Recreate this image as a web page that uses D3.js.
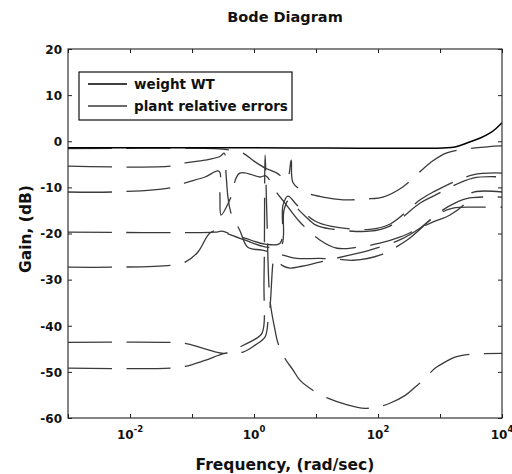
<!DOCTYPE html>
<html>
<head>
<meta charset="utf-8">
<script src="https://cdn.jsdelivr.net/npm/d3@7"></script>
<style>
body { margin: 0; background: #fff; }
svg text { font-family: "DejaVu Sans", sans-serif; font-weight: bold; fill: #111; }
</style>
</head>
<body>
<svg id="bode" width="512" height="474"></svg>
<script>
// axis ticks
var freqTicks = [1e-3, 1e-2, 1e-1, 1e0, 1e1, 1e2, 1e3, 1e4];
var freqLabelExps = [-2, 0, 2, 4];
var gainTicks = [20, 10, 0, -10, -20, -30, -40, -50, -60];

// weight WT  [rad/sec, dB]
var wt = [[1e-3,-1.4],[1.0,-1.4],[1120,-1.45],[1740,-1.25],[3020,-0.15],[4470,0.7],[6460,1.8],[7940,2.7],[10000,4.0]];

// plant relative errors [rad/sec, dB]
var pe1 = [[0.001,-1.6],[0.234,-1.6],[0.407,-1.9],[0.645,-2.5],[1.0,-4.3],[1.51,-5.8],[2.34,-6.9],[3.39,-8.4],[3.98,-4.1],[4.27,-9.0],[6.6,-11.0],[12.9,-12.1],[27.5,-12.7],[66,-12.5],[120,-12.1],[251,-9.9],[692,-4.7],[1290,-2.5],[5750,-1.2],[10000,-1.0]];
var pe2 = [[0.001,-5.4],[0.0447,-5.4],[0.0776,-4.7],[0.162,-4.1],[0.282,-3.3],[0.331,-2.6],[0.355,-7.3],[0.38,-12.1],[0.427,-15.6],[0.589,-19.3],[0.794,-23.0],[1.35,-23.6],[2.63,-24.5],[4.9,-25.4],[11.5,-25.4],[24.5,-25.6],[39.8,-25.8],[107,-24.7],[295,-21.4],[891,-16.0],[1620,-14.5],[4470,-14.3],[10000,-14.3]];
var pe3 = [[0.001,-11.0],[0.00513,-11.0],[0.0447,-10.1],[0.0776,-9.0],[0.162,-7.75],[0.272,-6.5],[0.282,-11.7],[0.295,-16.0],[0.407,-12.7],[0.589,-6.9],[1.26,-7.75],[1.55,-7.5],[2.34,-11.2],[3.16,-13.4],[5.5,-17.5],[11.5,-21.4],[21.9,-23.2],[46,-23.0],[107,-22.1],[224,-20.8],[479,-18.8],[776,-17.5],[1450,-16.0],[2750,-13.0],[3240,-11.2],[10000,-11.0]];
var pe4 = [[0.001,-19.7],[0.234,-19.7],[0.302,-19.5],[0.38,-19.9],[0.708,-21.0],[1.51,-22.3],[2.63,-22.1],[2.94,-13.8],[3.53,-11.9],[4.75,-13.6],[6.6,-15.6],[9.6,-17.3],[17,-18.4],[74,-19.1],[155,-18.0],[479,-12.7],[776,-11.0],[3390,-7.3],[10000,-6.9]];
var pe5 = [[0.001,-27.3],[0.00513,-27.3],[0.0447,-26.9],[0.0776,-26.2],[0.125,-24.0],[0.195,-19.9],[0.282,-19.3],[0.38,-20.1],[0.708,-21.4],[1.51,-22.9],[2.72,-22.7],[3.05,-14.9],[3.67,-12.7],[4.94,-14.5],[6.9,-16.4],[10,-18.2],[17,-19.0],[74,-19.5],[155,-18.4],[479,-13.4],[776,-11.9],[3390,-8.0],[10000,-7.75]];
var pe6 = [[0.001,-43.6],[0.0447,-43.6],[0.0776,-43.8],[0.162,-45.0],[0.34,-46.0],[0.589,-44.6],[1.04,-42.9],[1.35,-41.6],[1.45,-30.1],[1.51,-3.0],[1.62,-17.1],[1.81,-34.4],[2.18,-40.9],[2.44,-43.8],[3.16,-47.1],[4.27,-49.6],[5.5,-51.8],[8.9,-54.0],[15.5,-55.7],[29.5,-57.0],[61.7,-57.9],[107,-57.5],[155,-56.8],[275,-55.1],[398,-53.3],[575,-51.4],[830,-49.2],[1200,-47.9],[1740,-46.8],[3020,-46.2],[10000,-46.0]];
var pe7 = [[0.001,-49.2],[0.0447,-49.2],[0.0776,-48.8],[0.162,-47.5],[0.34,-46.0],[0.665,-45.7],[1.04,-44.2],[1.51,-42.4],[1.70,-38.3],[1.81,-36.0],[2.02,-26.4],[2.1,-25.4],[2.83,-26.9],[3.8,-27.5],[5.94,-27.1],[11.5,-26.2],[29.5,-24.9],[74,-23.6],[224,-21.4],[479,-18.8],[1000,-15.3],[1740,-13.4],[3020,-12.3],[10000,-12.1]];
var plantErrors = [pe1, pe2, pe3, pe4, pe5, pe6, pe7];

var svg = d3.select("#bode");
var margin = {left: 68, top: 49, right: 10, bottom: 56};
var width = 512 - margin.left - margin.right;
var height = 474 - margin.top - margin.bottom;

var x = d3.scaleLog().domain([1e-3, 1e4]).range([0, width]);
var y = d3.scaleLinear().domain([-60, 20]).range([height, 0]);

var g = svg.append("g").attr("transform", "translate(" + margin.left + "," + margin.top + ")");

g.append("clipPath").attr("id", "plotclip")
  .append("rect").attr("width", width).attr("height", height);

var line = d3.line()
  .x(function(d){ return x(d[0]); })
  .y(function(d){ return y(d[1]); })
  .curve(d3.curveCatmullRom.alpha(0.5));

var plot = g.append("g").attr("clip-path", "url(#plotclip)");

plot.selectAll("path.pe").data(plantErrors).enter()
  .append("path")
    .attr("class", "pe")
    .attr("d", line)
    .attr("fill", "none")
    .attr("stroke", "#3a3a3a")
    .attr("stroke-width", 1.3)
    .attr("stroke-dasharray", "44,14.5");

plot.append("path")
  .datum(wt)
  .attr("d", line)
  .attr("fill", "none")
  .attr("stroke", "#000")
  .attr("stroke-width", 1.5);

// axes, ticks inward like matlab
function noFmt(){ return ""; }
var yl = g.append("g").call(d3.axisLeft(y).tickValues(gainTicks).tickSize(-4).tickPadding(6)
  .tickFormat(function(d){ return String(d); }));
g.append("g").attr("transform", "translate(" + width + ",0)")
  .call(d3.axisRight(y).tickValues(gainTicks).tickSize(-4).tickFormat(noFmt));
g.append("g").attr("transform", "translate(0," + height + ")")
  .call(d3.axisBottom(x).tickValues(freqTicks).tickSize(-4).tickFormat(noFmt));
g.append("g")
  .call(d3.axisTop(x).tickValues(freqTicks).tickSize(-4).tickFormat(noFmt));

g.selectAll(".domain").remove();
g.selectAll(".tick line").attr("stroke", "#222");
yl.selectAll("text").style("font-size", "12px").attr("dy", "0.36em");

g.append("rect")
  .attr("width", width).attr("height", height)
  .attr("fill", "none").attr("stroke", "#222").attr("stroke-width", 1.1);

// decade labels 10^n
freqLabelExps.forEach(function(e){
  var t = g.append("text")
    .attr("x", x(Math.pow(10, e)))
    .attr("y", height + 21)
    .attr("text-anchor", "middle")
    .style("font-size", "12px");
  t.append("tspan").text("10");
  t.append("tspan").attr("dy", -7).style("font-size", "8.5px").text(e);
});

// titles
svg.append("text").attr("x", 285).attr("y", 22).attr("text-anchor", "middle")
  .style("font-size", "14.5px").text("Bode Diagram");
svg.append("text").attr("x", 285).attr("y", 470).attr("text-anchor", "middle")
  .style("font-size", "15.5px").text("Frequency, (rad/sec)");
svg.append("text").attr("transform", "translate(31,229) rotate(-90)").attr("text-anchor", "middle")
  .style("font-size", "15.5px").text("Gain, (dB)");

// legend
var lg = svg.append("g").attr("transform", "translate(79,72)");
lg.append("rect").attr("width", 213).attr("height", 48)
  .attr("fill", "#fff").attr("stroke", "#111").attr("stroke-width", 1.2);
lg.append("line").attr("x1", 9).attr("x2", 48).attr("y1", 12).attr("y2", 12)
  .attr("stroke", "#000").attr("stroke-width", 1.5);
lg.append("line").attr("x1", 9).attr("x2", 48).attr("y1", 34).attr("y2", 34)
  .attr("stroke", "#3a3a3a").attr("stroke-width", 1.3).attr("stroke-dasharray", "44,14.5");
lg.append("text").attr("x", 55).attr("y", 17).style("font-size", "13.5px").text("weight WT");
lg.append("text").attr("x", 55).attr("y", 39).style("font-size", "13.5px").text("plant relative errors");
</script>
</body>
</html>
